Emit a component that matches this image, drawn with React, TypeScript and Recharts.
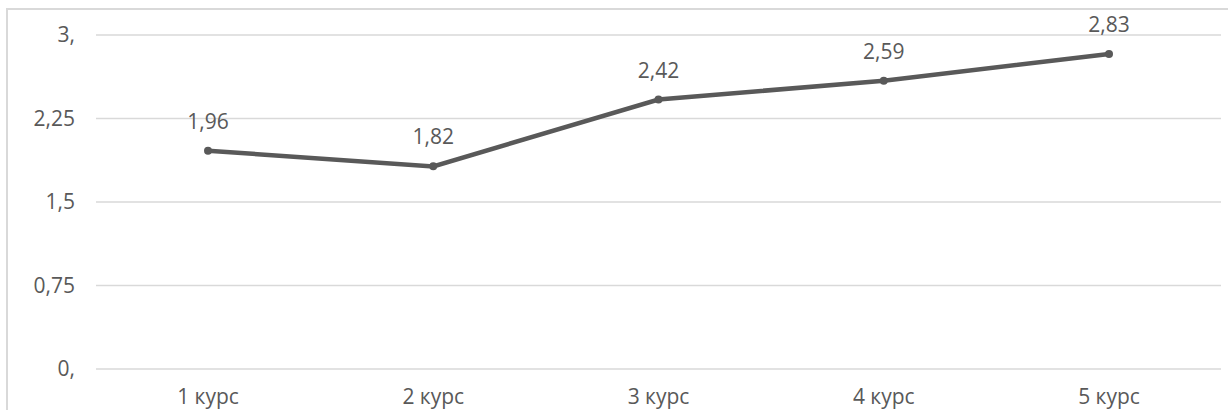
import React from 'react';
import { CartesianGrid, LabelList, Line, LineChart, XAxis, YAxis } from 'recharts';

const courses = ['1 курс', '2 курс', '3 курс', '4 курс', '5 курс'];
const scores = [1.96, 1.82, 2.42, 2.59, 2.83];
const yTicks = [0, 0.75, 1.5, 2.25, 3];
const yTickLabels = ['0,', '0,75', '1,5', '2,25', '3,'];

const data = courses.map((course, i) => ({ course, score: scores[i] }));

const textColor = '#595959';
const font = '"Open Sans", sans-serif';

export default function App() {
  return (
    <div style={{ position: 'relative', width: 1228, height: 410, overflow: 'hidden', fontFamily: font }}>
      <style>{'body{margin:0}'}</style>
      <div
        style={{
          position: 'absolute',
          left: 6,
          top: 8,
          width: 1260,
          height: 440,
          border: '2px solid #d9d9d9',
          boxSizing: 'border-box',
        }}
      />
      <LineChart
        width={1228}
        height={410}
        data={data}
        margin={{ top: 35, right: 7, bottom: 0, left: 0 }}
        style={{ position: 'absolute', left: 0, top: 0 }}
      >
        <CartesianGrid vertical={false} stroke="#d9d9d9" strokeWidth={1.5} />
        <XAxis
          dataKey="course"
          height={41}
          padding={{ left: 112, right: 112 }}
          axisLine={false}
          tickLine={false}
          tickMargin={14}
          tick={{ fill: textColor, fontSize: 21, fontFamily: font }}
        />
        <YAxis
          width={96}
          domain={[0, 3]}
          ticks={yTicks}
          axisLine={false}
          tickLine={false}
          tickSize={0}
          tickMargin={21}
          tickFormatter={(v: number) => yTickLabels[yTicks.indexOf(v)]}
          tick={{ fill: textColor, fontSize: 21, fontFamily: font }}
        />
        <Line
          type="linear"
          dataKey="score"
          stroke="#595959"
          strokeWidth={4.5}
          dot={{ r: 4, fill: '#595959', stroke: '#595959', strokeWidth: 0 }}
          isAnimationActive={false}
        >
          <LabelList
            dataKey="score"
            position="top"
            offset={22}
            fill={textColor}
            fontSize={21}
            fontFamily={font}
            formatter={(v: number) => String(v).replace('.', ',')}
          />
        </Line>
      </LineChart>
    </div>
  );
}
